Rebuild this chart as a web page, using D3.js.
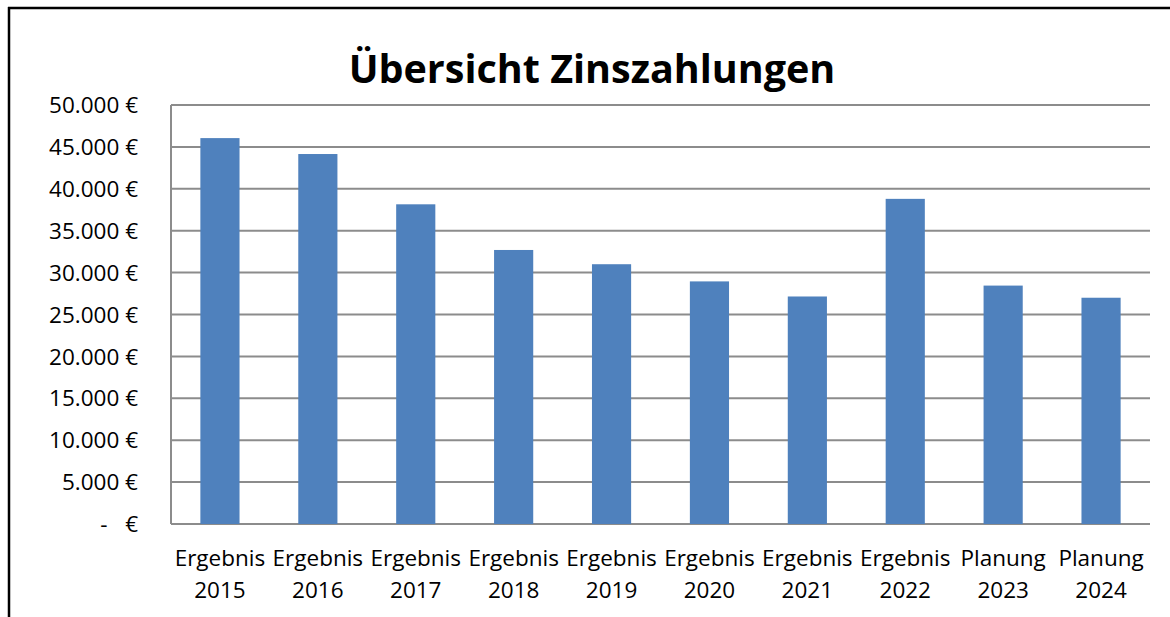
<!DOCTYPE html>
<html>
<head>
<meta charset="utf-8">
<script src="https://cdn.jsdelivr.net/npm/d3@7"></script>
<style>
  body { margin: 0; background: #fff; }
  svg { display: block; }
</style>
</head>
<body>
<div id="chart"></div>
<script>
// data
var kinds  = ["Ergebnis", "Ergebnis", "Ergebnis", "Ergebnis", "Ergebnis", "Ergebnis", "Ergebnis", "Ergebnis", "Planung", "Planung"];
var years  = ["2015", "2016", "2017", "2018", "2019", "2020", "2021", "2022", "2023", "2024"];
var values = [46050, 44150, 38150, 32700, 31000, 28950, 27150, 38800, 28450, 27000];
var yTicks = [0, 5000, 10000, 15000, 20000, 25000, 30000, 35000, 40000, 45000, 50000];
var title  = "Übersicht Zinszahlungen";

var width = 1170, height = 617,
    plotLeft = 171, plotRight = 1150, plotTop = 105, plotBottom = 524,
    font = "'Open Sans', sans-serif";

var svg = d3.select("#chart").append("svg")
    .attr("width", width)
    .attr("height", height);

// outer frame (only left and top edges are visible)
svg.append("line").attr("x1", 9).attr("x2", 9).attr("y1", 7).attr("y2", height)
    .attr("stroke", "#000").attr("stroke-width", 2.5);
svg.append("line").attr("x1", 8).attr("x2", width).attr("y1", 8).attr("y2", 8)
    .attr("stroke", "#000").attr("stroke-width", 2.5);

var cats = years.map(function(d, i) { return kinds[i] + " " + d; });

var x = d3.scaleBand()
    .domain(cats)
    .range([plotLeft, plotRight])
    .paddingInner(0.6)
    .paddingOuter(0.3);

var y = d3.scaleLinear()
    .domain([0, 50000])
    .range([plotBottom, plotTop]);

function euro(v) {
  return v === 0 ? "-   €" : d3.format(",")(v).replace(/,/g, ".") + " €";
}

// gridlines
svg.append("g")
    .selectAll("line")
    .data(yTicks)
    .enter().append("line")
    .attr("x1", plotLeft).attr("x2", plotRight)
    .attr("y1", function(d) { return y(d); })
    .attr("y2", function(d) { return y(d); })
    .attr("stroke", "#8c8c8c")
    .attr("stroke-width", 2);

// left axis line
svg.append("line")
    .attr("x1", plotLeft).attr("x2", plotLeft)
    .attr("y1", plotTop).attr("y2", plotBottom)
    .attr("stroke", "#8c8c8c").attr("stroke-width", 2);

// y labels
svg.append("g")
    .selectAll("text")
    .data(yTicks)
    .enter().append("text")
    .attr("x", 138)
    .attr("y", function(d) { return y(d); })
    .attr("dy", "0.36em")
    .attr("text-anchor", "end")
    .attr("font-family", font)
    .attr("font-size", 22.5)
    .attr("fill", "#000")
    .style("white-space", "pre")
    .text(euro);

// bars
svg.append("g")
    .selectAll("rect")
    .data(values)
    .enter().append("rect")
    .attr("x", function(d, i) { return x(cats[i]); })
    .attr("y", function(d) { return y(d); })
    .attr("width", x.bandwidth())
    .attr("height", function(d) { return plotBottom - y(d); })
    .attr("fill", "#4f81bd");

// x labels, two lines
var xl = svg.append("g")
    .selectAll("text")
    .data(cats)
    .enter().append("text")
    .attr("text-anchor", "middle")
    .attr("font-family", font)
    .attr("font-size", 22.5)
    .attr("fill", "#000");
xl.append("tspan")
    .attr("x", function(d) { return x(d) + x.bandwidth() / 2; })
    .attr("y", 566)
    .text(function(d, i) { return kinds[i]; });
xl.append("tspan")
    .attr("x", function(d) { return x(d) + x.bandwidth() / 2; })
    .attr("y", 598)
    .text(function(d, i) { return years[i]; });

// title
svg.append("text")
    .attr("x", 592)
    .attr("y", 83)
    .attr("text-anchor", "middle")
    .attr("font-family", font)
    .attr("font-weight", "bold")
    .attr("font-size", 39.5)
    .attr("fill", "#000")
    .text(title);
</script>
</body>
</html>
